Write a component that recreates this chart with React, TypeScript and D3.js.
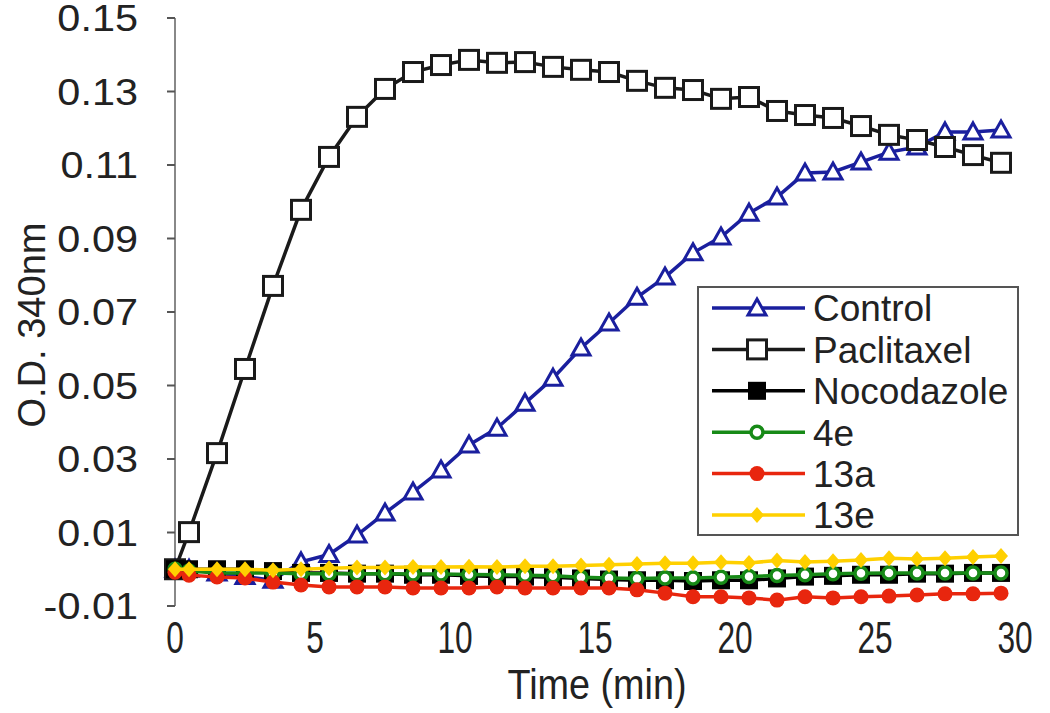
import * as d3 from "d3";
import React from "react";

const times = [
  0, 0.5, 1.5, 2.5, 3.5, 4.5, 5.5, 6.5, 7.5, 8.5, 9.5, 10.5, 11.5, 12.5, 13.5,
  14.5, 15.5, 16.5, 17.5, 18.5, 19.5, 20.5, 21.5, 22.5, 23.5, 24.5, 25.5, 26.5,
  27.5, 28.5, 29.5,
];

const control = [
  0.0, 0.0, -0.001, -0.002, -0.003, 0.002, 0.004, 0.0093, 0.0153, 0.021, 0.027,
  0.0338, 0.0384, 0.0452, 0.052, 0.0602, 0.067, 0.074, 0.0795, 0.0861, 0.0904,
  0.0969, 0.1013, 0.1078, 0.1081, 0.1108, 0.1135, 0.1149, 0.119, 0.119, 0.1195,
];

const paclitaxel = [
  0.0, 0.0101, 0.0316, 0.0545, 0.0771, 0.0978, 0.1122, 0.1231, 0.1307, 0.1353,
  0.1372, 0.1386, 0.1378, 0.138, 0.1367, 0.1359, 0.1353, 0.1329, 0.131, 0.1304,
  0.128, 0.1285, 0.1247, 0.1236, 0.1228, 0.1206, 0.1182, 0.1168, 0.1149, 0.1127,
  0.1106,
];

const nocodazole = [
  0.0, 0.0, 0.0, 0.0, -0.0005, -0.001, -0.001, -0.0012, -0.0012, -0.0015,
  -0.0015, -0.0018, -0.002, -0.002, -0.0022, -0.0025, -0.0028, -0.003, -0.003,
  -0.0032, -0.003, -0.003, -0.0025, -0.002, -0.0018, -0.0015, -0.0015, -0.0012,
  -0.0012, -0.001, -0.001,
];

const cmp4e = [
  0.0, -0.0005, -0.001, -0.001, -0.001, -0.0012, -0.0012, -0.0012, -0.0012,
  -0.0013, -0.0013, -0.0014, -0.0015, -0.0016, -0.0018, -0.0022, -0.0024,
  -0.0025, -0.0024, -0.0024, -0.0022, -0.002, -0.0017, -0.0015, -0.0012,
  -0.0011, -0.001, -0.001, -0.001, -0.001, -0.001,
];

const cmp13a = [
  -0.0008, -0.0016, -0.0021, -0.0024, -0.0035, -0.0043, -0.0048, -0.0048,
  -0.0048, -0.0051, -0.0051, -0.0051, -0.0048, -0.0051, -0.0051, -0.0051,
  -0.0051, -0.0056, -0.0065, -0.0075, -0.0075, -0.0078, -0.0084, -0.0075,
  -0.0078, -0.0075, -0.0073, -0.007, -0.0067, -0.0067, -0.0065,
];

const cmp13e = [
  0.0, 0.0, 0.0, 0.0, -0.0003, 0.0, 0.0003, 0.0005, 0.0005, 0.0006, 0.0006,
  0.0007, 0.0006, 0.0008, 0.0008, 0.001, 0.0012, 0.0014, 0.0016, 0.0016, 0.0019,
  0.0017, 0.0024, 0.002, 0.0022, 0.0025, 0.003, 0.0028, 0.003, 0.0033, 0.0036,
];

const seriesNames = ["Control", "Paclitaxel", "Nocodazole", "4e", "13a", "13e"];
const yTicks = [-0.01, 0.01, 0.03, 0.05, 0.07, 0.09, 0.11, 0.13, 0.15];
const yTickLabels = ["-0.01", "0.01", "0.03", "0.05", "0.07", "0.09", "0.11", "0.13", "0.15"];
const xTicks = [0, 5, 10, 15, 20, 25, 30];

const styles = [
  { values: control, color: "#1a1f9e", marker: "triangle" },
  { values: paclitaxel, color: "#1a1a1a", marker: "square" },
  { values: nocodazole, color: "#000000", marker: "filledSquare" },
  { values: cmp4e, color: "#178a17", marker: "circle" },
  { values: cmp13a, color: "#e8260e", marker: "dot" },
  { values: cmp13e, color: "#ffd000", marker: "diamond" },
];

function Marker({ type, x, y, color }) {
  switch (type) {
    case "triangle":
      return (
        <path
          d={`M${x},${y - 9}L${x + 9},${y + 7}L${x - 9},${y + 7}Z`}
          fill="#fff"
          stroke={color}
          strokeWidth={3}
        />
      );
    case "square":
      return (
        <rect
          x={x - 9.5}
          y={y - 9.5}
          width={19}
          height={19}
          fill="#fff"
          stroke={color}
          strokeWidth={3}
        />
      );
    case "filledSquare":
      return <rect x={x - 9} y={y - 9} width={18} height={18} fill={color} />;
    case "circle":
      return <circle cx={x} cy={y} r={6} fill="#fff" stroke={color} strokeWidth={3.5} />;
    case "dot":
      return <circle cx={x} cy={y} r={7.5} fill={color} />;
    case "diamond":
      return (
        <path
          d={`M${x},${y - 8}L${x + 7},${y}L${x},${y + 8}L${x - 7},${y}Z`}
          fill={color}
        />
      );
    default:
      return null;
  }
}

export default function App() {
  const x = d3.scaleLinear().domain([0, 30]).range([175, 1015]);
  const y = d3.scaleLinear().domain([-0.01, 0.15]).range([606, 18]);
  const line = d3
    .line()
    .x((d) => x(d[0]))
    .y((d) => y(d[1]));

  const font = "'Liberation Sans', Arial, sans-serif";
  const legendY = (i) => 308 + i * 41.4;

  return (
    <div style={{ position: "absolute", left: 0, top: 0 }}>
      <svg width={1050} height={713} style={{ display: "block", background: "#fff" }}>
        {/* y axis */}
        <line x1={175} x2={175} y1={y(0.15)} y2={y(-0.01)} stroke="#888" strokeWidth={2} />
        {yTicks.map((t, i) => (
          <g key={t}>
            <line x1={167} x2={175} y1={y(t)} y2={y(t)} stroke="#555" strokeWidth={2} />
            <text
              transform={`translate(138,${y(t)}) scale(1.12,1)`}
              dy="0.36em"
              textAnchor="end"
              fontFamily={font}
              fontSize={37}
              fill="#222"
            >
              {yTickLabels[i]}
            </text>
          </g>
        ))}
        {xTicks.map((t) => (
          <text
            key={t}
            transform={`translate(${x(t)},653) scale(0.72,1)`}
            textAnchor="middle"
            fontFamily={font}
            fontSize={44}
            fill="#222"
          >
            {t}
          </text>
        ))}
        <text
          transform="translate(597,699) scale(0.9,1)"
          textAnchor="middle"
          fontFamily={font}
          fontSize={42}
          fill="#222"
        >
          Time (min)
        </text>
        <text
          transform="translate(45,325) rotate(-90)"
          textAnchor="middle"
          fontFamily={font}
          fontSize={38}
          fill="#222"
        >
          O.D. 340nm
        </text>

        {/* series */}
        {styles.map((s, i) => {
          const pts = times.map((t, j) => [t, s.values[j]]);
          return (
            <g key={seriesNames[i]}>
              <path d={line(pts)} fill="none" stroke={s.color} strokeWidth={3.5} />
              {pts.map((p, j) => (
                <Marker key={j} type={s.marker} x={x(p[0])} y={y(p[1])} color={s.color} />
              ))}
            </g>
          );
        })}

        {/* legend */}
        <rect x={698} y={287} width={320} height={248} fill="#fff" stroke="#555" strokeWidth={2} />
        {styles.map((s, i) => (
          <g key={seriesNames[i]}>
            <line x1={712} x2={805} y1={legendY(i)} y2={legendY(i)} stroke={s.color} strokeWidth={3.5} />
            <Marker type={s.marker} x={757} y={legendY(i)} color={s.color} />
            <text
              x={813}
              y={legendY(i)}
              dy="0.36em"
              fontFamily={font}
              fontSize={37}
              fill="#222"
            >
              {seriesNames[i]}
            </text>
          </g>
        ))}
      </svg>
    </div>
  );
}
